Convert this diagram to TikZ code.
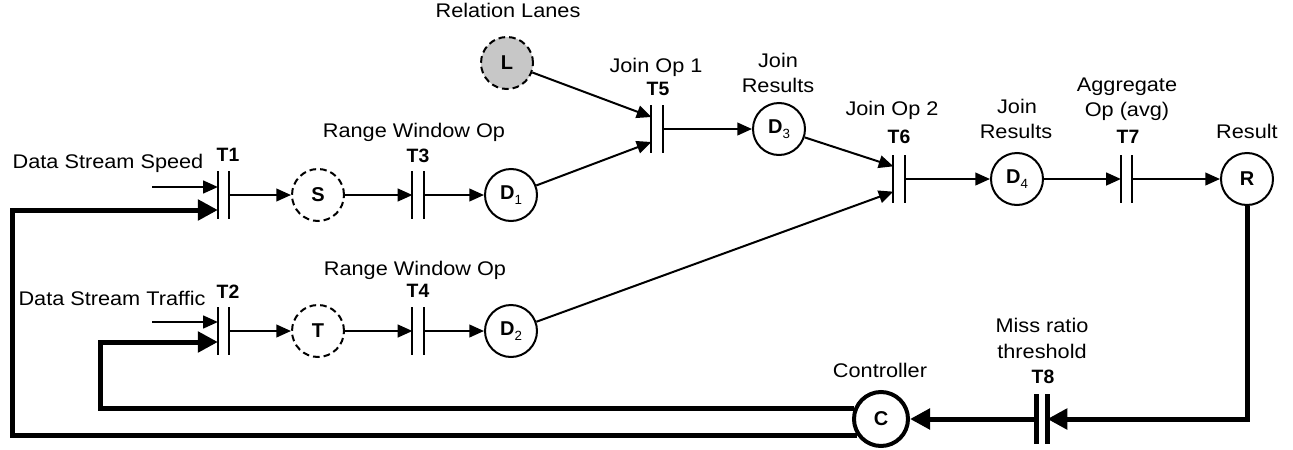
\documentclass[tikz,border=0pt]{standalone}
\usepackage{fontspec}
\setmainfont{Liberation Sans}
\newfontfamily\lblfont{Liberation Sans}[FakeStretch=1.1]
\usetikzlibrary{arrows.meta,calc}
\newcommand\Dsub[1]{D\raisebox{-3.5pt}{\fontsize{10pt}{10pt}\selectfont\mdseries #1}}
\begin{document}
\begin{tikzpicture}[x=0.75pt,y=-0.75pt,
  arr/.style={line width=1.5pt,-{Triangle[length=11pt,width=9.5pt]}},
  tarr/.style={line width=3.75pt,-{Triangle[length=15pt,width=15pt]}},
  place/.style={circle,draw,line width=1.5pt,minimum size=39pt,inner sep=0pt,font=\bfseries\fontsize{15pt}{17pt}\selectfont},
  dplace/.style={place,dash pattern=on 5pt off 3pt},
  trans/.style={minimum width=8pt,minimum height=35.25pt,inner sep=0pt},
  bar/.style={line width=1.6pt},
  tbar/.style={line width=3.5pt},
  lbl/.style={anchor=base,inner sep=0pt,font=\lblfont\fontsize{14.8pt}{17pt}\selectfont},
  tlbl/.style={anchor=base,inner sep=0pt,font=\bfseries\fontsize{14.5pt}{16pt}\selectfont},
]
\useasboundingbox (0,0) rectangle (1293,450);

% transitions
\node[trans] (T1) at (223.5,195) {};
\node[trans] (T2) at (223.5,331) {};
\node[trans] (T3) at (418,195) {};
\node[trans] (T4) at (418,331) {};
\node[trans] (T5) at (657,129) {};
\node[trans] (T6) at (899,179) {};
\node[trans] (T7) at (1126.5,179) {};
\node[trans,minimum width=7.5pt,minimum height=36.75pt] (T8) at (1042,419) {};
\foreach \t in {T1,T2,T3,T4,T5,T6,T7}
  \draw[bar] (\t.north west) -- (\t.south west) (\t.north east) -- (\t.south east);
\draw[tbar] (T8.north west) -- (T8.south west) (T8.north east) -- (T8.south east);

% places
\node[dplace] (S) at (318,195) {S};
\node[dplace] (T) at (318,331) {T};
\node[place] (D1) at (511,195) {\Dsub{1}};
\node[place] (D2) at (511,331) {\Dsub{2}};
\node[dplace,fill=black!22] (L) at (507,63) {L};
\node[place] (D3) at (779,129) {\Dsub{3}};
\node[place] (D4) at (1017,179) {\Dsub{4}};
\node[place] (R) at (1247,179) {R};
\node[place,line width=3pt,minimum size=40.5pt] (C) at (881,419) {C};

% free ends
\coordinate (i1) at (152,187);
\coordinate (i2) at (152,322);
\coordinate (k1) at (100,342);
\coordinate (k2) at (12,210);

% connectors
\draw[arr] (i1) -- (i1 -| T1.west);
\draw[arr] (i2) -- (i2 -| T2.west);
\draw[tarr] (C.214) -| (k2) -- (k2 -| T1.west);
\draw[tarr] (C.158) -| (k1) -- (k1 -| T2.west);
\draw[arr] (T1.east) -- (S);
\draw[arr] (S) -- (T3.west);
\draw[arr] (T3.east) -- (D1);
\draw[arr] (T2.east) -- (T);
\draw[arr] (T) -- (T4.west);
\draw[arr] (T4.east) -- (D2);
\draw[arr] (L) -- ([yshift=9pt]T5.west);
\draw[arr] (D1) -- ([yshift=-9.75pt]T5.west);
\draw[arr] (T5.east) -- (D3);
\draw[arr] (D3) -- ([yshift=9.5pt]T6.west);
\draw[arr] (D2) -- ([yshift=-9.5pt]T6.west);
\draw[arr] (T6.east) -- (D4);
\draw[arr] (D4) -- (T7.west);
\draw[arr] (T7.east) -- (R);
\draw[tarr] (R) |- (T8.east);
\draw[tarr] (T8.west) -- (C);

% labels
\node[lbl] (lSpeed) at (108,168) {Data Stream Speed};
\node[tlbl] (lT1) at (228,161) {T1};
\node[lbl] (lRW1) at (414,137) {Range Window Op};
\node[tlbl] (lT3) at (418,162) {T3};
\node[lbl] (lRel) at (508,17) {Relation Lanes};
\node[lbl] (lJ1) at (656,72) {Join Op 1};
\node[tlbl] (lT5) at (658,95) {T5};
\node[lbl] (lJR1a) at (778,67) {Join};
\node[lbl] (lJR1b) at (778,92) {Results};
\node[lbl] (lJ2) at (892,115) {Join Op 2};
\node[tlbl] (lT6) at (899,143) {T6};
\node[lbl] (lJR2a) at (1017,113) {Join};
\node[lbl] (lJR2b) at (1016,138) {Results};
\node[lbl] (lAgg1) at (1127,91) {Aggregate};
\node[lbl] (lAgg2) at (1127,116) {Op (avg)};
\node[tlbl] (lT7) at (1128,143) {T7};
\node[lbl] (lRes) at (1247,138) {Result};
\node[lbl] (lTraffic) at (112,305) {Data Stream Traffic};
\node[tlbl] (lT2) at (228,298) {T2};
\node[lbl] (lRW2) at (415,275) {Range Window Op};
\node[tlbl] (lT4) at (418,297) {T4};
\node[lbl] (lCtrl) at (880,377) {Controller};
\node[lbl] (lMiss1) at (1042,332) {Miss ratio};
\node[lbl] (lMiss2) at (1042,358) {threshold};
\node[tlbl] (lT8) at (1043,383) {T8};
\end{tikzpicture}
\end{document}
